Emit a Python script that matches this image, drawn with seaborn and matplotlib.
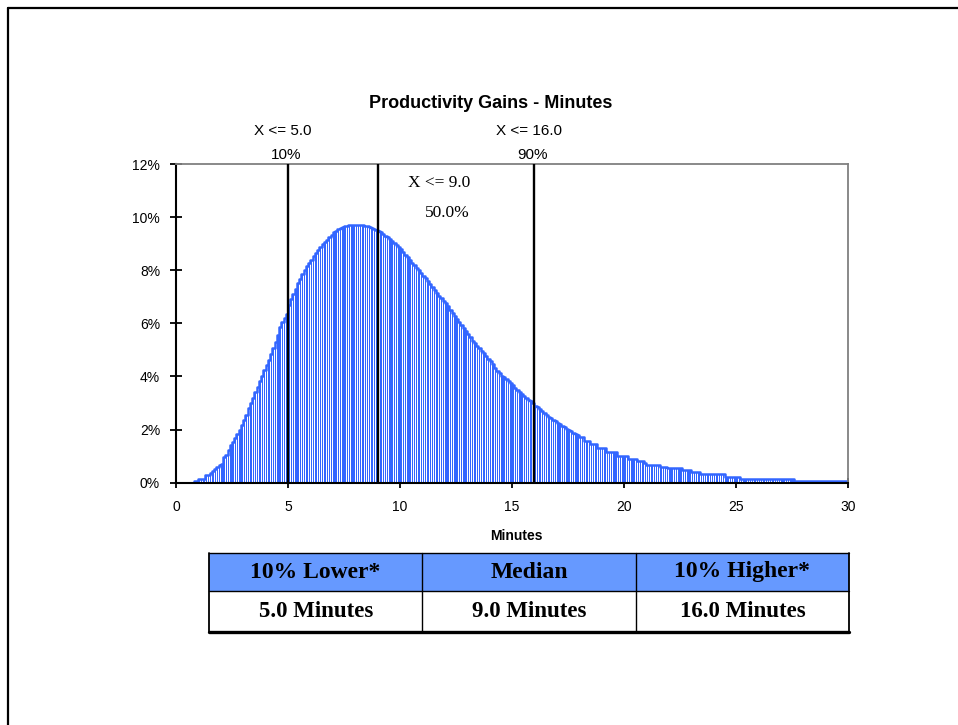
import numpy as np
import pandas as pd
import matplotlib
matplotlib.use("Agg")
import matplotlib.pyplot as plt
import seaborn as sns
from matplotlib.lines import Line2D
from matplotlib.patches import Rectangle

# Simulated productivity gain: percent of trials per minute, in 0.1-minute bins
bin_start = 0.8
bin_width = 0.1
density_pct = [
    0.07, 0.07,
    0.14, 0.14, 0.14, 0.29, 0.29, 0.37, 0.45, 0.51, 0.58, 0.66,
    0.70, 0.95, 1.05, 1.23, 1.40, 1.54, 1.68, 1.83, 2.00, 2.17,
    2.35, 2.55, 2.80, 3.00, 3.20, 3.40, 3.60, 3.82, 4.03, 4.24,
    4.43, 4.62, 4.84, 5.06, 5.30, 5.55, 5.85, 6.05, 6.20, 6.35,
    6.69, 6.90, 7.10, 7.30, 7.50, 7.65, 7.85, 8.00, 8.15, 8.28,
    8.40, 8.53, 8.66, 8.77, 8.87, 8.97, 9.07, 9.15, 9.25, 9.33,
    9.42, 9.48, 9.55, 9.60, 9.64, 9.66, 9.68, 9.70, 9.70, 9.70,
    9.70, 9.70, 9.70, 9.70, 9.68, 9.66, 9.63, 9.60, 9.56, 9.51,
    9.47, 9.42, 9.36, 9.30, 9.24, 9.17, 9.10, 9.02, 8.95, 8.88,
    8.80, 8.68, 8.57, 8.48, 8.38, 8.29, 8.18, 8.09, 7.99, 7.89,
    7.79, 7.69, 7.58, 7.47, 7.36, 7.25, 7.14, 7.04, 6.94, 6.84,
    6.75, 6.65, 6.50, 6.38, 6.28, 6.18, 6.05, 5.93, 5.82, 5.70,
    5.58, 5.47, 5.35, 5.25, 5.16, 5.06, 4.97, 4.87, 4.77, 4.67,
    4.57, 4.45, 4.33, 4.22, 4.12, 4.03, 3.96, 3.89, 3.81, 3.75,
    3.66, 3.57, 3.48, 3.40, 3.33, 3.26, 3.19, 3.12, 3.06, 2.98,
    2.90, 2.86, 2.78, 2.70, 2.62, 2.54, 2.48, 2.42, 2.37, 2.31,
    2.25, 2.19, 2.14, 2.09, 2.03, 1.98, 1.93, 1.88, 1.84, 1.80,
    1.73, 1.73, 1.58, 1.58, 1.58, 1.45, 1.45, 1.45, 1.29, 1.29,
    1.29, 1.29, 1.16, 1.16, 1.16, 1.16, 1.16, 1.00, 1.00, 1.00,
    1.00, 1.00, 0.90, 0.90, 0.90, 0.90, 0.82, 0.82, 0.82, 0.74,
    0.66, 0.66, 0.66, 0.66, 0.66, 0.66, 0.60, 0.60, 0.60, 0.54,
    0.54, 0.54, 0.54, 0.54, 0.54, 0.54, 0.47, 0.47, 0.47, 0.47,
    0.39, 0.39, 0.39, 0.39, 0.31, 0.31, 0.31, 0.31, 0.31, 0.31,
    0.31, 0.31, 0.31, 0.31, 0.31, 0.22, 0.22, 0.22, 0.22, 0.22,
    0.22, 0.22, 0.15, 0.15, 0.15, 0.15, 0.15, 0.15, 0.15, 0.15,
    0.15, 0.15, 0.15, 0.15, 0.15, 0.15, 0.15, 0.15, 0.15, 0.15,
    0.15, 0.15, 0.15, 0.15, 0.15, 0.15, 0.07, 0.07, 0.07, 0.07,
    0.07, 0.07, 0.07, 0.07, 0.07, 0.07, 0.07, 0.07, 0.07, 0.07,
    0.07, 0.07, 0.07, 0.07, 0.07, 0.07, 0.07, 0.07, 0.07, 0.07,
]

# Percentile markers (minutes) and their cumulative levels
marker_minutes = [5.0, 9.0, 16.0]
marker_levels = ["10%", "50.0%", "90%"]

# Summary table
table_headers = ["10% Lower*", "Median", "10% Higher*"]
table_minutes = [5.0, 9.0, 16.0]

x_ticks = [0, 5, 10, 15, 20, 25, 30]
y_ticks = [0, 2, 4, 6, 8, 10, 12]

BLUE = "#3366FF"
HEADER_BLUE = "#6699FF"

sns.set_theme(style="white")
plt.rcParams["font.family"] = ["Liberation Sans", "DejaVu Sans"]
plt.rcParams["text.color"] = "black"
plt.rcParams["xtick.color"] = "black"
plt.rcParams["ytick.color"] = "black"
plt.rcParams["xtick.labelcolor"] = "black"
plt.rcParams["ytick.labelcolor"] = "black"
SERIF = ["Liberation Serif", "DejaVu Serif"]

W, H = 958, 725
fig = plt.figure(figsize=(W / 100, H / 100), dpi=100)
fig.patch.set_facecolor("white")


def fx(px):
    return px / W


def fy(py):
    return 1 - py / H


ax = fig.add_axes([fx(176), fy(482.6), fx(848) - fx(176), fy(164) - fy(482.6)])
ax.set_facecolor("white")

edges = [float(e) for e in bin_start + bin_width * np.arange(len(density_pct) + 1)]
df = pd.DataFrame({"minutes": np.array(edges[:-1]) + bin_width / 2,
                   "pct": density_pct})

# Thin striped columns plus a stepped outline along their tops
sns.histplot(data=df, x="minutes", weights="pct", bins=edges, element="bars",
             fill=True, shrink=0.62, color=BLUE, alpha=1.0, linewidth=0, ax=ax)
sns.histplot(data=df, x="minutes", weights="pct", bins=edges, element="step",
             fill=False, color=BLUE, linewidth=1.8, ax=ax)

ax.set_xlim(0, 30)
ax.set_ylim(0, 12)
ax.set_xlabel("")
ax.set_ylabel("")
ax.set_xticks(x_ticks)
ax.set_xticklabels([str(t) for t in x_ticks])
ax.set_yticks(y_ticks)
ax.set_yticklabels([f"{t}%" for t in y_ticks])
ax.tick_params(axis="y", direction="inout", length=9, width=1.3, pad=7,
               labelsize=10, colors="black", left=True)
ax.tick_params(axis="x", direction="inout", length=7.5, width=1.3, pad=9,
               labelsize=10, colors="black", bottom=True)
for side in ("top", "right"):
    ax.spines[side].set_color("#808080")
    ax.spines[side].set_linewidth(1.3)
for side in ("left", "bottom"):
    ax.spines[side].set_color("black")
    ax.spines[side].set_linewidth(1.5)

# Percentile marker lines with their labels
for i, (xm, lvl) in enumerate(zip(marker_minutes, marker_levels)):
    ax.axvline(xm, color="black", linewidth=1.7, zorder=5)
    if i == 1:
        ax.text(10.35, 11.28, f"X <= {xm:.1f}", ha="left", va="center",
                fontsize=12.5, family=SERIF)
        ax.text(12.1, 10.15, lvl, ha="center", va="center",
                fontsize=12.5, family=SERIF)
    else:
        ax.text(xm - 0.25, 13.24, f"X <= {xm:.1f}", ha="center", va="center",
                fontsize=11, clip_on=False)
        ax.text(xm - 0.1, 12.34, lvl, ha="center", va="center",
                fontsize=11, clip_on=False)

fig.text(fx(491), fy(104), "Productivity Gains - Minutes", ha="center",
         va="center", fontsize=13, fontweight="bold")
fig.text(fx(516), fy(536), "Minutes", ha="center", va="center",
         fontsize=10, fontweight="bold")

# Summary table below the chart
tax = fig.add_axes([fx(209), fy(632), fx(849) - fx(209), fy(553) - fy(632)])
tax.set_xlim(0, 3)
tax.set_ylim(0, 1)
tax.axis("off")
split = 41 / 79
tax.add_patch(Rectangle((0, split), 3, 1 - split, facecolor=HEADER_BLUE,
                        edgecolor="none"))
tax.plot([0, 3], [1, 1], color="black", lw=1.0, clip_on=False)
tax.plot([0, 3], [split, split], color="black", lw=1.0, clip_on=False)
tax.plot([0, 3], [0, 0], color="black", lw=2.4, clip_on=False)
for c in range(4):
    tax.plot([c, c], [0, 1], color="black", lw=1.3 if c in (0, 3) else 1.0,
             clip_on=False)
for c, (hdr, val) in enumerate(zip(table_headers, table_minutes)):
    tax.text(c + 0.5, (1 + split) / 2, hdr, ha="center", va="center",
             fontsize=17, fontweight="bold", family=SERIF)
    tax.text(c + 0.5, split / 2, f"{val:.1f} Minutes", ha="center",
             va="center", fontsize=16.5, fontweight="bold", family=SERIF)

# Page border
fig.add_artist(Line2D([fx(8), 1.0], [fy(8), fy(8)], color="black", lw=1.6))
fig.add_artist(Line2D([fx(8), fx(8)], [fy(8), 0.0], color="black", lw=1.6))

fig.savefig("out.png", dpi=100, facecolor="white")
